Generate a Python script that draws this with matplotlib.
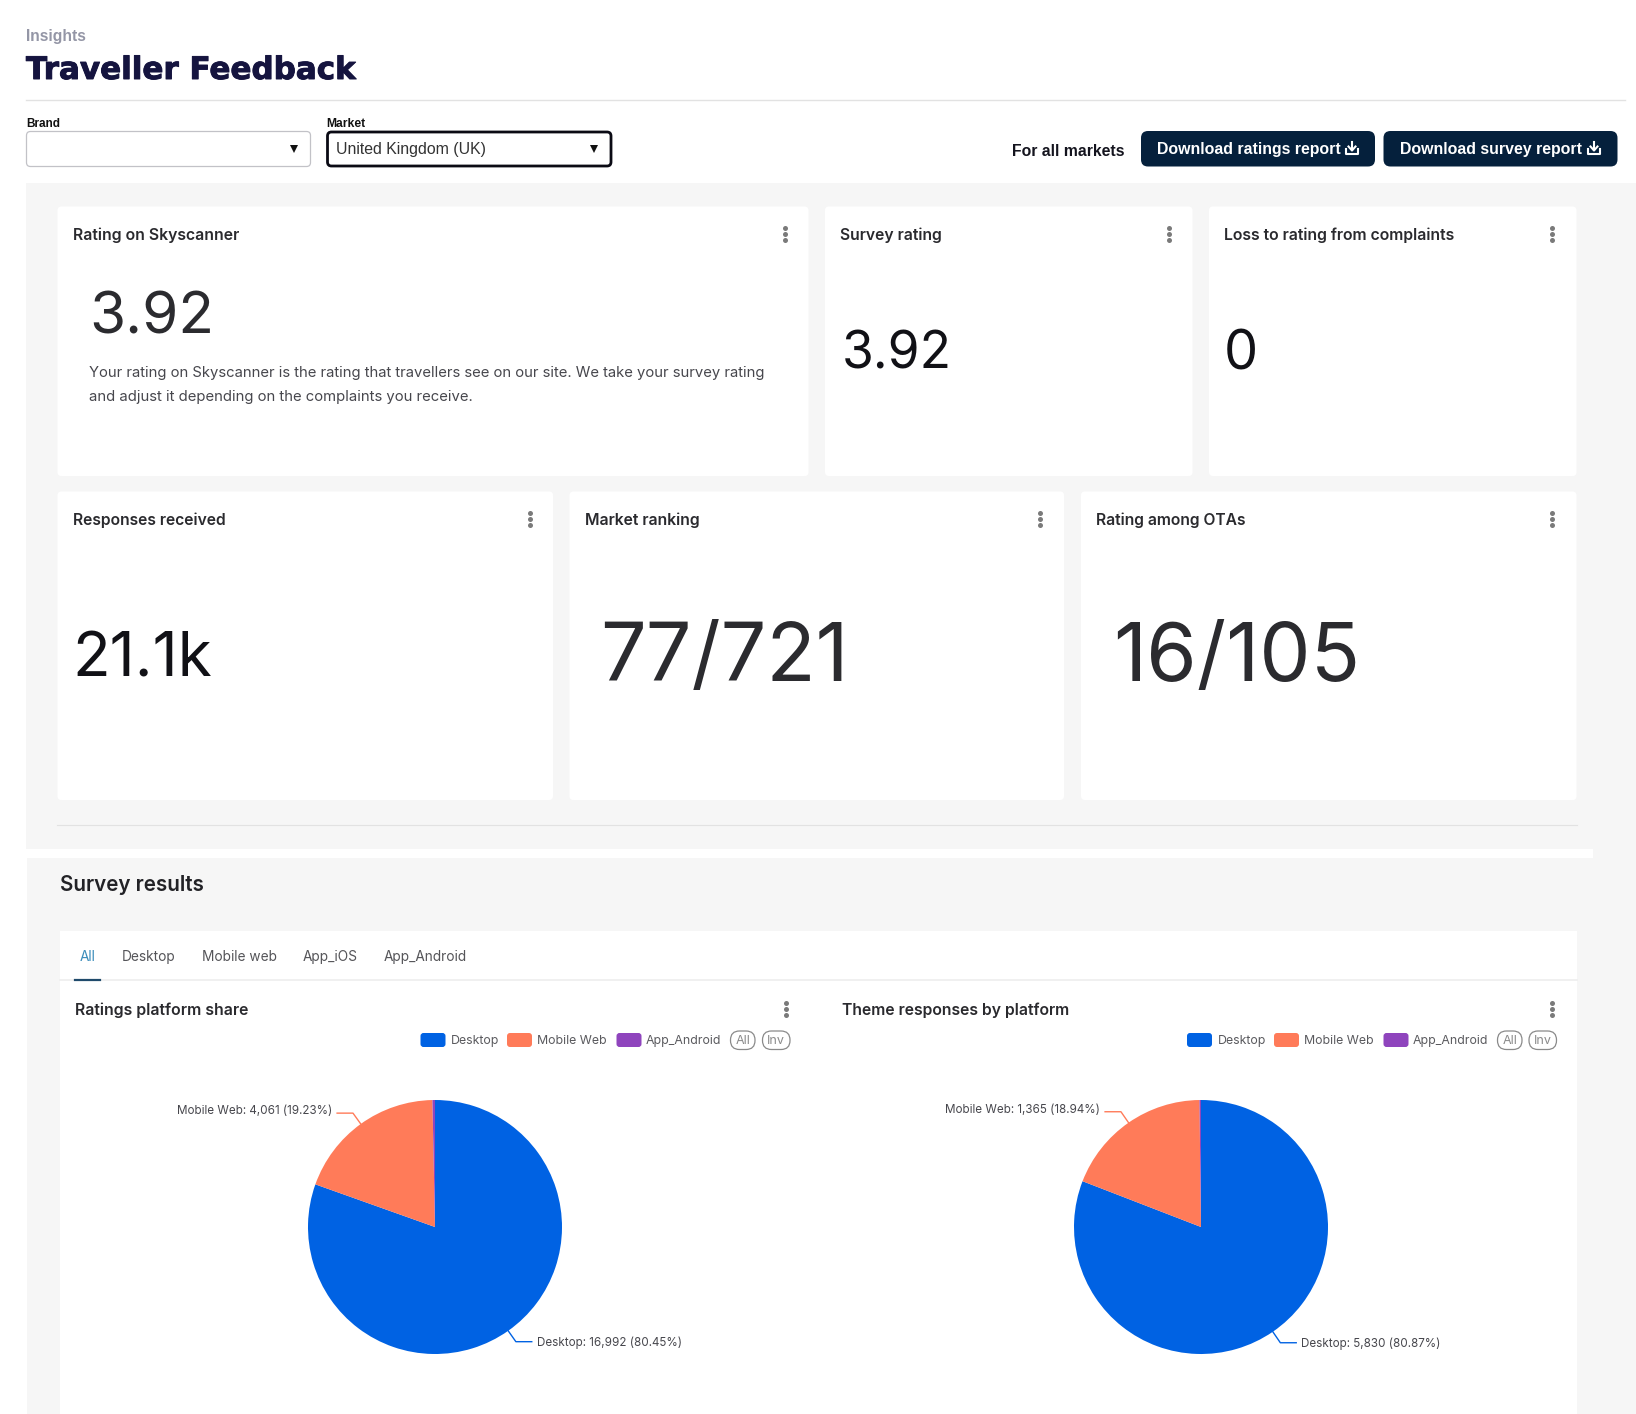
import matplotlib
matplotlib.use("Agg")
import numpy as np
import matplotlib.pyplot as plt
import matplotlib.patheffects as pe
from matplotlib.patches import FancyBboxPatch, Rectangle

W, H = 1636, 1414

# data
platforms = ["Desktop", "Mobile Web", "App_Android"]
ratings_counts = [16992, 4061, 68]
ratings_pct = [80.45, 19.23, 0.32]
theme_counts = [5830, 1365, 14]
theme_pct = [80.87, 18.94, 0.19]
platform_colors = ["#0062E3", "#FF7B59", "#8F44BD"]
tabs = ["All", "Desktop", "Mobile web", "App_iOS", "App_Android"]
tab_x = [79.5, 121.5, 201.5, 302.5, 384]

rating_on_skyscanner = "3.92"
survey_rating = "3.92"
loss_from_complaints = "0"
responses_received = "21.1k"
market_ranking = "77/721"
rating_among_otas = "16/105"

NAVY = "#05203C"
PANEL = "#F6F6F6"
INK = "#26262B"
UI = "Inter"
ARIAL = "Liberation Sans"

fig = plt.figure(figsize=(W / 100, H / 100), dpi=100, facecolor="white")
ax = fig.add_axes([0, 0, 1, 1])
ax.set_xlim(0, W)
ax.set_ylim(H, 0)
ax.axis("off")


def box(x0, y0, x1, y1, fc="white", ec="none", lw=0, r=4, z=2):
    p = FancyBboxPatch((x0, y0), x1 - x0, y1 - y0, boxstyle=f"round,pad=0,rounding_size={r}",
                       fc=fc, ec=ec, lw=lw, zorder=z)
    ax.add_patch(p)


def rect(x0, y0, x1, y1, fc, z=1):
    ax.add_patch(Rectangle((x0, y0), x1 - x0, y1 - y0, fc=fc, ec="none", zorder=z))


def text(x, y, s, size=12, width=None, color=INK, family=UI, weight="normal", ha="left", a=None):
    t = ax.text(x, y, s, fontsize=size, color=color, family=family, weight=weight,
                ha=ha, va="center_baseline", zorder=6, path_effects=a)
    if width is not None:
        # scale font so the string takes the same pixels as in the screenshot
        w = t.get_window_extent(fig.canvas.get_renderer()).width
        t.set_fontsize(size * width / w)
    return t


def dots(x, y):
    ax.plot([x, x, x], [y - 6, y, y + 6], "o", ms=3.6, color="#7A7A7A", mew=0, zorder=6)


def download_icon(x, y, color="white"):
    ax.plot([x, x], [y - 6, y + 2], color=color, lw=1.5, zorder=7)
    ax.plot([x - 3.5, x, x + 3.5], [y - 1.5, y + 2.5, y - 1.5], color=color, lw=1.5, zorder=7)
    ax.plot([x - 6, x - 6, x + 6, x + 6], [y + 1, y + 6, y + 6, y + 1], color=color, lw=1.5, zorder=7)


# header
text(26, 35.5, "Insights", size=11, width=60, color="#9496A6", family=ARIAL, weight="bold")
text(26, 67.5, "Traveller Feedback", size=23, width=330, color="#15143F", family="DejaVu Sans", weight="bold",
     a=[pe.withStroke(linewidth=0.7, foreground="#15143F")])
ax.plot([26, 1625], [99.5, 99.5], color="#E2E2E2", lw=1, zorder=2)

# filters
text(26, 122.5, "Brand", size=9, width=34, color="#111111", family=ARIAL, weight="bold")
text(326.5, 122.5, "Market", size=9, width=39, color="#111111", family=ARIAL, weight="bold")
box(26.5, 131.5, 310.5, 166.5, ec="#C2C2C7", lw=0.9)
box(327.5, 132, 611, 166, ec="#0A0A14", lw=2)
text(336, 148, "United Kingdom (UK)", size=11.5, width=150, color="#333333", family=ARIAL)
ax.plot([293.5, 594], [148.5, 148.5], "v", ms=5.6, color="#111111", mew=0, zorder=6)

# download buttons
text(1012.5, 150.5, "For all markets", size=11, width=112, color="#14141E", family=ARIAL, weight="bold")
box(1141, 131, 1375, 166.5, fc=NAVY, r=7)
box(1383.5, 131, 1617.5, 166.5, fc=NAVY, r=7)
text(1157, 148, "Download ratings report", size=11, width=184, color="white", family=ARIAL, weight="bold")
text(1400, 148, "Download survey report", size=11, width=182, color="white", family=ARIAL, weight="bold")
download_icon(1352, 148)
download_icon(1594, 148)

# grey page panels
rect(26, 183, W, 849, PANEL, z=0)
rect(27, 858, W, H, PANEL, z=0)
rect(1593, 849, W, 858, PANEL, z=0)

# kpi cards
cards = [
    (57.5, 206.5, 808.5, 476, "Rating on Skyscanner", 167, 785),
    (825, 206.5, 1192.5, 476, "Survey rating", 102.5, 1169),
    (1209, 206.5, 1576.5, 476, "Loss to rating from complaints", 232, 1552),
    (57.5, 491.5, 553, 800, "Responses received", 154, 529.5),
    (569.5, 491.5, 1064, 800, "Market ranking", 115.5, 1040),
    (1081, 491.5, 1576.5, 800, "Rating among OTAs", 150.5, 1552),
]
for x0, y0, x1, y1, title, tw, dx in cards:
    box(x0, y0, x1, y1)
    text(x0 + 15.5, y0 + 27.5, title, size=11.5, width=tw, color="#2A2A2E", weight="semibold")
    dots(dx, y0 + 27)

text(89, 313, rating_on_skyscanner, size=45, width=125, color="#2B2B2F")
text(89, 371.5, "Your rating on Skyscanner is the rating that travellers see on our site. We take your survey rating",
     size=10.5, width=678, color="#47474D")
text(89, 395.5, "and adjust it depending on the complaints you receive.", size=10.5, width=384, color="#47474D")
text(842, 349.5, survey_rating, size=41, width=110, color="#111116")
text(1224, 349.5, loss_from_complaints, size=39, color="#111116")
text(72, 654, responses_received, size=48, width=140, color="#111116")
text(600, 651, market_ranking, size=59, width=248, color="#2B2B2F")
text(1113, 651, rating_among_otas, size=59, width=247, color="#2B2B2F")

ax.plot([57, 1577], [824.5, 824.5], color="#E2E2E2", lw=0.8, zorder=2)

# survey results
text(59.5, 883, "Survey results", size=15, width=144, color="#222226", weight="semibold")
rect(59.5, 931, 1577, H, "white", z=1)
for i, (label, x) in enumerate(zip(tabs, tab_x)):
    text(x, 955.5, label, size=9.85, color="#3B8DBB" if i == 0 else "#555559")
ax.plot([59.5, 1577], [980, 980], color="#EEEEEE", lw=1.2, zorder=2)
ax.plot([75, 100], [979.5, 979.5], color="#1F4A6B", lw=1.6, zorder=3)

panels = [
    ("Ratings platform share", 75, 174, 786, ratings_counts, ratings_pct, 435, 1227,
     [(420.5, 450.5), (507, 537), (616.5, 646)], (730.5, 755), (762.5, 790)),
    ("Theme responses by platform", 842, 229, 1552, theme_counts, theme_pct, 1201, 1227,
     [(1187, 1217.5), (1274, 1304), (1383.5, 1412.5)], (1497.5, 1522), (1529, 1556.5)),
]
R = 127.0
half = 140.0
for title, tx, tw, dx, counts, pct, cx, cy, leg, pill_all, pill_inv in panels:
    text(tx, 1009, title, size=11.5, width=tw, color="#2A2A2E", weight="semibold")
    dots(dx, 1008.5)

    for (sx, lx), name, c in zip(leg, platforms, platform_colors):
        box(sx, 1033, sx + 25, 1047, fc=c, r=3)
        text(lx, 1039.5, name, size=8.85, color="#5A5A5E")
    for (p0, p1), name in zip((pill_all, pill_inv), ("All", "Inv")):
        box(p0, 1031, p1, 1049.5, ec="#8A8A8A", lw=0.9, r=9)
        text((p0 + p1) / 2, 1039.5, name, size=9, color="#8A8A8A", ha="center")

    pax = fig.add_axes([(cx - half) / W, 1 - (cy + half) / H, 2 * half / W, 2 * half / H])
    pax.pie(counts, colors=platform_colors, startangle=90, counterclock=False, radius=1,
            wedgeprops={"linewidth": 0})
    lim = half / R
    pax.set_xlim(-lim, lim)
    pax.set_ylim(-lim, lim)
    pax.axis("off")

    # leader lines for the two big slices, from each slice's mid angle
    start = 0.0
    for i in range(2):
        share = counts[i] / sum(counts)
        ang = np.pi / 2 - 2 * np.pi * (start + share / 2)
        start += share
        ux, uy = np.cos(ang), np.sin(ang)
        side = 1 if ux > 0 else -1
        ex, ey = 1.105 * ux, 1.105 * uy
        hx = ex + side * 0.125
        pax.plot([ux, ex, hx], [uy, ey, ey], color=platform_colors[i], lw=1, clip_on=False)
        s = f"{platforms[i]}: {counts[i]:,} ({pct[i]:.2f}%)"
        # the upper label sits a little above its line in the screenshot
        dy = 0.025 if i == 1 else 0
        pax.text(hx + side * 0.04, ey + dy, s, fontsize=8.4, color="#47474D", family=UI,
                 ha="left" if side > 0 else "right", va="center_baseline")

fig.savefig("out.png", dpi=100)
